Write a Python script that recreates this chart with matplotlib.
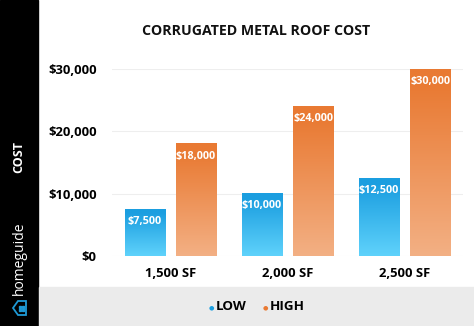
import matplotlib.pyplot as plt
import numpy as np
from matplotlib.colors import LinearSegmentedColormap
from matplotlib.patches import Polygon, Rectangle

plt.rcParams["font.family"] = ["Open Sans", "DejaVu Sans"]

# Data
sizes = ["1,500 SF", "2,000 SF", "2,500 SF"]
low_cost = [7500, 10000, 12500]
high_cost = [18000, 24000, 30000]
y_ticks = [0, 10000, 20000, 30000]
series_names = ["LOW", "HIGH"]

# colours: (top, bottom) of each gradient
blue_top, blue_bottom = "#1b9ee0", "#5fd2fb"
orange_top, orange_bottom = "#e97a33", "#f3b084"

W, H = 474, 326
fig = plt.figure(figsize=(W / 100, H / 100), dpi=100)


def px(x, y):
    # pixel position (from top-left) -> figure fraction
    return x / W, 1 - y / H


# black side strip and grey legend band
fig.patches.append(Rectangle((0, 0), 38 / W, 1, transform=fig.transFigure,
                             color="black", zorder=0))
fig.patches.append(Rectangle(px(39, 326), 1, 39 / H, transform=fig.transFigure,
                             color="#ebebeb", zorder=0))

ax = fig.add_axes([112 / W, (H - 256) / H, 351 / W, 187 / H])
for s in ax.spines.values():
    s.set_visible(False)
ax.set_yticks(y_ticks)
ax.set_yticklabels([f"${v:,}" for v in y_ticks])
ax.set_xticks(range(len(sizes)))
ax.set_xticklabels(sizes)
ax.tick_params(length=0, labelsize=9.4)
ax.tick_params(axis="y", pad=11)
ax.tick_params(axis="x", pad=8)
for lbl in ax.get_xticklabels() + ax.get_yticklabels():
    lbl.set_fontweight("bold")
for v in y_ticks:
    ax.axhline(v, color="#eeeeee", lw=0.8, zorder=0)

x = np.arange(len(sizes))
width = 0.342
offset = 0.218
# solid top band (behind the value label), then fade to the light bottom
grad = np.concatenate([np.ones(20), np.linspace(1, 0, 236)]).reshape(-1, 1)


def gradient_bars(xs, vals, top, bottom):
    cmap = LinearSegmentedColormap.from_list("g", [bottom, top])
    bars = ax.bar(xs, vals, width, color="none", zorder=2)
    for b, v in zip(bars, vals):
        x0 = b.get_x()
        ax.imshow(grad, cmap=cmap, aspect="auto", zorder=2,
                  extent=[x0, x0 + width, 0, v], clip_on=False)
        ax.annotate(f"${v:,}", (x0 + width / 2, v), xytext=(0, -8.8),
                    textcoords="offset points", ha="center", va="center",
                    color="white", fontsize=7.8, fontweight="bold", zorder=3)
    return bars


gradient_bars(x - offset, low_cost, blue_top, blue_bottom)
gradient_bars(x + offset, high_cost, orange_top, orange_bottom)
ax.set_xlim(-0.5, 2.5)
ax.set_ylim(0, 30000)

fig.text(*px(256, 31), "CORRUGATED METAL ROOF COST", ha="center", va="center",
         fontsize=10.2, fontweight="bold", color="#111111")

# legend
for name, col, xd in zip(series_names, [blue_top, orange_top], [211, 265]):
    fig.text(*px(xd, 308), "\u25cf", ha="center", va="center", fontsize=4.5,
             color=col, family="DejaVu Sans")
    fig.text(*px(xd + 5, 307), name, ha="left", va="center", fontsize=9.6,
             fontweight="bold", color="black")

# side strip text
fig.text(*px(19, 157), "COST", rotation=90, ha="center", va="center",
         color="white", fontsize=9, fontweight="bold")
fig.text(*px(19, 258), "homeguide", rotation=90, ha="center", va="center",
         color="white", fontsize=10)
house = [(13, 308), (18, 301), (26, 301), (26, 315), (18, 315)]
fig.patches.append(Polygon([px(a, b) for a, b in house], closed=True,
                           transform=fig.transFigure, fill=False,
                           ec="#1e9ad6", lw=1.3))
for hx, hy in [(19, 306), (22, 306), (19, 309), (22, 309)]:
    fig.patches.append(Rectangle(px(hx, hy + 1.6), 1.6 / W, 1.6 / H,
                                 transform=fig.transFigure, color="#1e9ad6"))

fig.savefig("out.png", dpi=100)
